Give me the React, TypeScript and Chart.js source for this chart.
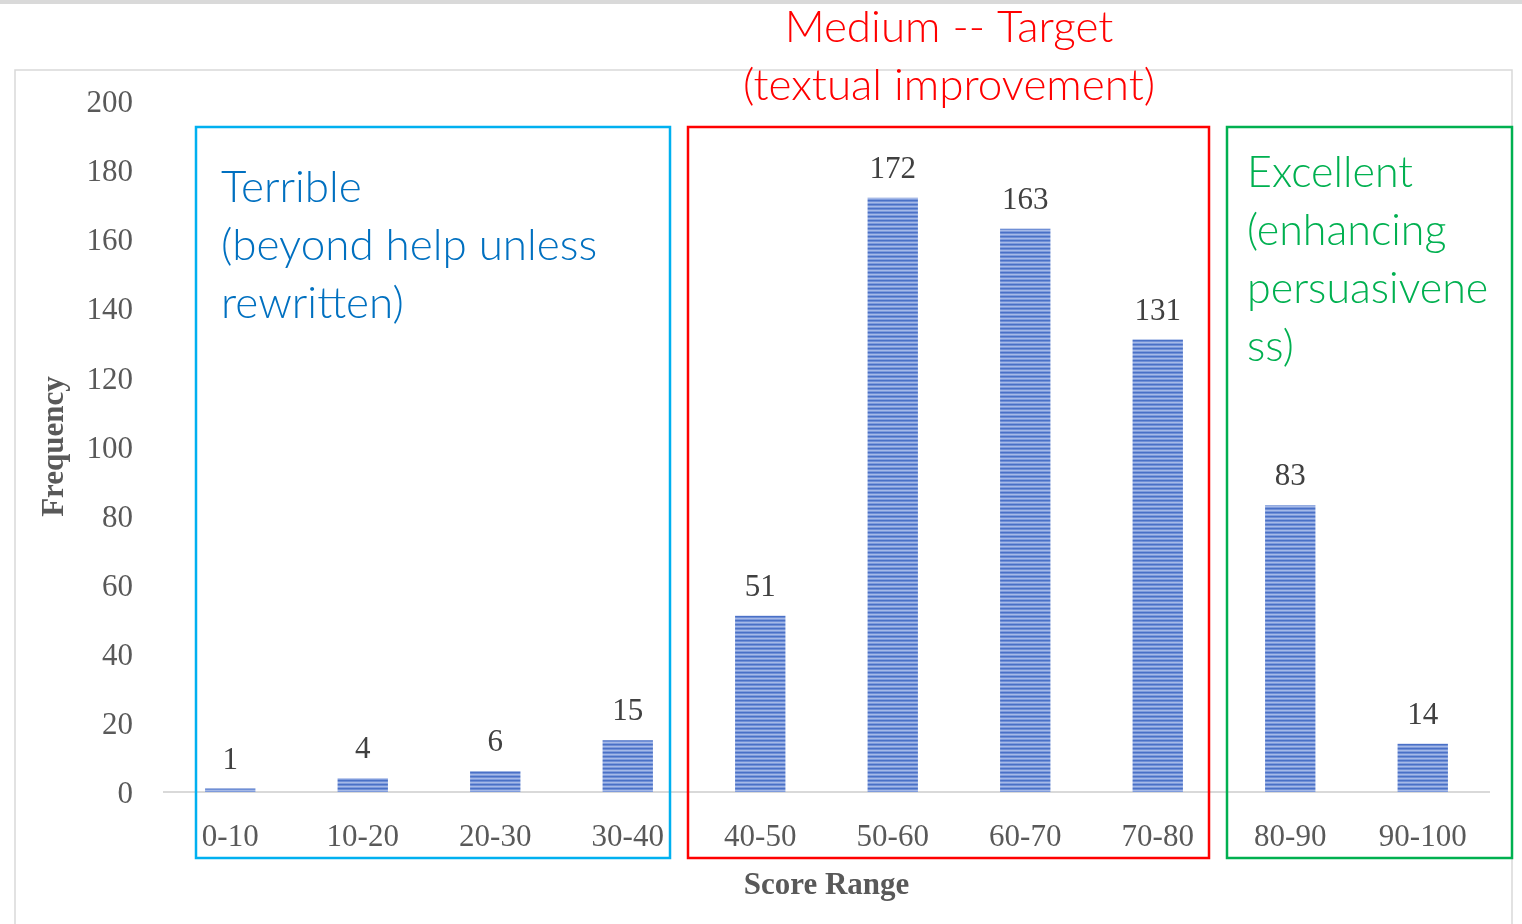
import React, { useEffect, useRef } from "react";
import { Chart, registerables } from "chart.js";

Chart.register(...registerables);

const categories = ["0-10", "10-20", "20-30", "30-40", "40-50", "50-60", "60-70", "70-80", "80-90", "90-100"];
const frequencies = [1, 4, 6, 15, 51, 172, 163, 131, 83, 14];
const yTicks = [0, 20, 40, 60, 80, 100, 120, 140, 160, 180, 200];

const terribleLines = ["Terrible", "(beyond help unless", "rewritten)"];
const mediumLines = ["Medium -- Target", "(textual improvement)"];
const excellentLines = ["Excellent", "(enhancing", "persuasivene", "ss)"];

const W = 1522;
const H = 924;
const SERIF = "'Liberation Serif', 'Times New Roman', serif";
const SANS = "Lato, 'Open Sans', sans-serif";

function makePattern(): CanvasPattern | string {
  const off = document.createElement("canvas");
  off.width = 4;
  off.height = 4;
  const c = off.getContext("2d");
  if (!c) return "#4472c4";
  const rows = ["#4a70c6", "#6f8fd6", "#a6b9e7", "#7e9bdc"];
  rows.forEach((col, i) => {
    c.fillStyle = col;
    c.fillRect(0, i, 4, 1);
  });
  const ctx = document.createElement("canvas").getContext("2d");
  return (ctx && ctx.createPattern(off, "repeat")) || "#4472c4";
}

const decorPlugin = {
  id: "decor",
  beforeDraw(chart: any) {
    const ctx = chart.ctx;
    ctx.save();
    ctx.fillStyle = "#ffffff";
    ctx.fillRect(0, 0, W, H);
    ctx.fillStyle = "#d9d9d9";
    ctx.fillRect(0, 0, W, 4);
    ctx.strokeStyle = "#d9d9d9";
    ctx.lineWidth = 1.5;
    ctx.strokeRect(15, 70, 1497, 900);
    ctx.restore();
  },
  afterDatasetsDraw(chart: any) {
    const ctx = chart.ctx;
    const meta = chart.getDatasetMeta(0);
    ctx.save();
    ctx.font = `31px ${SERIF}`;
    ctx.fillStyle = "#404040";
    ctx.textAlign = "center";
    ctx.textBaseline = "middle";
    meta.data.forEach((bar: any, i: number) => {
      ctx.fillText(String(frequencies[i]), bar.x, bar.y - 28);
    });
    ctx.restore();
  },
  afterDraw(chart: any) {
    const ctx = chart.ctx;
    ctx.save();
    ctx.lineWidth = 2.5;
    const boxes: [string, number, number, number, number][] = [
      ["#00b0f0", 196, 127, 670, 858],
      ["#ff0000", 688, 127, 1209, 858],
      ["#00b050", 1227, 127, 1512, 858],
    ];
    boxes.forEach(([col, x1, y1, x2, y2]) => {
      ctx.strokeStyle = col;
      ctx.strokeRect(x1, y1, x2 - x1, y2 - y1);
    });
    ctx.font = `300 44px ${SANS}`;
    ctx.textBaseline = "alphabetic";
    ctx.textAlign = "left";
    ctx.fillStyle = "#0070c0";
    terribleLines.forEach((t, i) => ctx.fillText(t, 221, 202 + i * 58));
    ctx.fillStyle = "#00b050";
    ctx.font = `300 43px ${SANS}`;
    excellentLines.forEach((t, i) => ctx.fillText(t, 1247, 187 + i * 58));
    ctx.font = `300 44px ${SANS}`;
    ctx.textAlign = "center";
    ctx.fillStyle = "#ff0000";
    mediumLines.forEach((t, i) => ctx.fillText(t, 949, 42 + i * 58));
    ctx.restore();
  },
};

export default function App() {
  const ref = useRef<HTMLCanvasElement>(null);
  useEffect(() => {
    if (!ref.current) return;
    const pattern = makePattern();
    const chart = new Chart(ref.current, {
      type: "bar",
      data: {
        labels: categories,
        datasets: [
          {
            data: frequencies,
            backgroundColor: pattern as any,
            borderWidth: 0,
            barPercentage: 0.38,
            categoryPercentage: 1,
          },
        ],
      },
      options: {
        responsive: false,
        animation: false,
        layout: { padding: { top: 101, right: 33, left: 0, bottom: 0 } },
        plugins: { legend: { display: false }, tooltip: { enabled: false } },
        scales: {
          x: {
            grid: { display: false, drawTicks: false },
            border: { display: true, color: "#d9d9d9", width: 2 },
            ticks: { color: "#595959", font: { family: SERIF, size: 31 }, padding: 27, maxRotation: 0 },
            title: {
              display: true,
              text: "Score Range",
              color: "#595959",
              font: { family: SERIF, size: 31, weight: "bold" },
              padding: { top: 0, bottom: 19 },
            },
            afterFit: (s: any) => {
              s.height = 132;
            },
          },
          y: {
            min: 0,
            max: 200,
            afterBuildTicks: (s: any) => {
              s.ticks = yTicks.map((v) => ({ value: v }));
            },
            grid: { display: false, drawTicks: false },
            border: { display: false },
            ticks: { color: "#595959", font: { family: SERIF, size: 31 }, padding: 31, labelOffset: 3 },
            title: {
              display: true,
              text: "Frequency",
              color: "#595959",
              font: { family: SERIF, size: 31, weight: "bold" },
              padding: { top: 36, bottom: 0 },
            },
            afterFit: (s: any) => {
              s.width = 164;
            },
          },
        },
      },
      plugins: [decorPlugin],
    });
    return () => chart.destroy();
  }, []);
  return (
    <div style={{ position: "absolute", left: 0, top: 0, width: W, height: H, background: "#fff" }}>
      <canvas ref={ref} width={W} height={H} style={{ display: "block" }} />
    </div>
  );
}
